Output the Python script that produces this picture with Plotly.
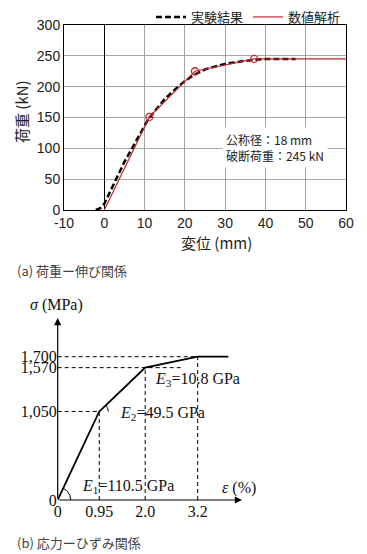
import math
import plotly.graph_objects as go

# ---------------- data: (a) load - elongation ----------------
exp_disp = [-2.1, -1.0, 0.0, 5.0, 11.0, 15.0, 18.0, 20.0, 22.0, 25.0, 30.0, 35.0, 40.0, 47.5]
exp_load = [0, 3, 10, 78, 148, 180, 198, 209, 218, 228, 237, 242, 245, 245]
num_disp = [0.0, 11.2, 22.5, 37.2, 60.0]
num_load = [0, 151, 225, 245, 245]
num_mark_disp = [11.2, 22.5, 37.2]
num_mark_load = [151, 225, 245]
x_ticks_a = [-10, 0, 10, 20, 30, 40, 50, 60]
x_labels_a = ["-10", "0", "10", "20", "30", "40", "50", "60"]
y_ticks_a = [0, 50, 100, 150, 200, 250, 300]

# ---------------- data: (b) stress - strain ----------------
strain = [0.0, 0.95, 2.0, 3.2, 3.9]
stress = [0, 1050, 1570, 1700, 1700]
guide_strain = [0.95, 2.0, 3.2]
guide_stress = [1050, 1570, 1700]
guide_h_end = [0.95, 2.83, 3.2]
strain_ticks = [0, 0.95, 2.0, 3.2]
strain_labels = ["0", "0.95", "2.0", "3.2"]
stress_ticks = [0, 1050, 1570, 1700]
stress_labels = ["0", "1,050", "1,570", "1,700"]

W, H = 367, 554
def px(x):
    return x / W
def py(y):
    return 1 - y / H

# bottom axis geometry (pixels)
bx0, bx1 = 57.7, 262.0
by0, by1 = 500.0, 300.0
sx = 43.75      # px per % strain
sy = 0.0843     # px per MPa
xr2 = (bx1 - bx0) / sx
yr2 = (by0 - by1) / sy

RED = "#c0282d"
SANS = "Liberation Sans, Arial, Noto Sans CJK JP"
JP = "Noto Sans CJK JP, Liberation Sans"
SERIF = "Liberation Serif, Times New Roman, serif"

fig = go.Figure()

# (a) traces
fig.add_trace(go.Scatter(x=exp_disp, y=exp_load, mode="lines", name="実験結果",
                         line=dict(color="black", width=2.5, dash="6px,3px"),
                         xaxis="x", yaxis="y"))
fig.add_trace(go.Scatter(x=num_disp, y=num_load, mode="lines", name="数値解析",
                         line=dict(color=RED, width=1.2), xaxis="x", yaxis="y"))
fig.add_trace(go.Scatter(x=num_mark_disp, y=num_mark_load, mode="markers", showlegend=False,
                         marker=dict(symbol="circle-open", size=7, color=RED, line=dict(width=1.3)),
                         xaxis="x", yaxis="y"))

# (b) guides
for e, s, he in zip(guide_strain, guide_stress, guide_h_end):
    fig.add_trace(go.Scatter(x=[e, e], y=[0, s], mode="lines", showlegend=False,
                             line=dict(color="black", width=1, dash="4px,3px"),
                             xaxis="x2", yaxis="y2"))
    fig.add_trace(go.Scatter(x=[0, he], y=[s, s], mode="lines", showlegend=False,
                             line=dict(color="black", width=1, dash="4px,3px"),
                             xaxis="x2", yaxis="y2"))

# (b) main curve
fig.add_trace(go.Scatter(x=strain, y=stress, mode="lines", showlegend=False,
                         line=dict(color="black", width=1.8),
                         xaxis="x2", yaxis="y2"))

# angle arcs
def arc(i, r):
    e0, s0 = strain[i], stress[i]
    e1, s1 = strain[i + 1], stress[i + 1]
    ang = math.atan2((s1 - s0) * sy, (e1 - e0) * sx)
    n = 20
    xs = [e0 + r * math.cos(ang * k / n) / sx for k in range(n + 1)]
    ys = [s0 + r * math.sin(ang * k / n) / sy for k in range(n + 1)]
    return xs, ys

for i, r in [(0, 13), (1, 9)]:
    xs, ys = arc(i, r)
    fig.add_trace(go.Scatter(x=xs, y=ys, mode="lines", showlegend=False,
                             line=dict(color="black", width=1),
                             xaxis="x2", yaxis="y2"))

fig.update_layout(
    width=W, height=H, margin=dict(l=0, r=0, t=0, b=0, autoexpand=False),
    paper_bgcolor="white", plot_bgcolor="white",
    showlegend=True, hovermode=False,
    legend=dict(orientation="h", x=px(346), xanchor="right", y=py(2), yanchor="top",
                font=dict(family=JP, size=13, color="#222"),
                bgcolor="rgba(0,0,0,0)", tracegroupgap=0, itemwidth=30),
    xaxis=dict(domain=[px(64), px(346)], range=[-10, 60], tickvals=x_ticks_a,
               ticktext=x_labels_a,
               showgrid=True, gridcolor="#a6a6a6", gridwidth=1,
               zeroline=True, zerolinecolor="black", zerolinewidth=1,
               showline=True, mirror=True, linecolor="black", linewidth=1,
               ticks="", tickfont=dict(family=SANS, size=14, color="#222"),
               anchor="y", fixedrange=True, automargin=False),
    yaxis=dict(domain=[py(210), py(25)], range=[0, 300], tickvals=y_ticks_a,
               showgrid=True, gridcolor="#a6a6a6", gridwidth=1,
               zeroline=False,
               showline=True, mirror=True, linecolor="black", linewidth=1,
               ticks="", tickfont=dict(family=SANS, size=14, color="#222"),
               anchor="x", fixedrange=True, automargin=False),
    xaxis2=dict(domain=[px(bx0), px(bx1)], range=[0, xr2], tickvals=strain_ticks,
                ticktext=strain_labels, showgrid=False, zeroline=False, showline=False,
                ticks="", tickfont=dict(family=SERIF, size=16, color="#111"),
                anchor="y2", fixedrange=True, automargin=False),
    yaxis2=dict(domain=[py(by0), py(by1)], range=[0, yr2], tickvals=stress_ticks,
                ticktext=stress_labels, showgrid=False, zeroline=False, showline=False,
                ticks="", tickfont=dict(family=SERIF, size=16, color="#111"),
                anchor="x2", fixedrange=True, automargin=False),
)

ann = []
# (a) titles / box / caption
ann.append(dict(text="変位 (mm)", xref="paper", yref="paper", x=px(216), y=py(242),
                showarrow=False, font=dict(family=JP, size=15, color="#222"),
                xanchor="center", yanchor="middle"))
ann.append(dict(text="荷重 (kN)", xref="paper", yref="paper", x=px(22), y=py(112),
                showarrow=False, textangle=-90, font=dict(family=JP, size=15, color="#222"),
                xanchor="center", yanchor="middle"))
ann.append(dict(text="公称径：18 mm<br>破断荷重：245 kN", xref="x", yref="y", x=29.2, y=101,
                showarrow=False, align="left", xanchor="left", yanchor="middle",
                bgcolor="white", borderpad=3,
                font=dict(family=JP, size=12, color="#222")))
ann.append(dict(text="(a) 荷重ー伸び関係", xref="paper", yref="paper", x=px(15), y=py(270),
                showarrow=False, xanchor="left", yanchor="middle",
                font=dict(family=JP, size=13, color="#444")))
# (b) axis arrows
ann.append(dict(x=0, y=(by0 - 318) / sy, ax=0, ay=0, xref="x2", yref="y2",
                axref="x2", ayref="y2", showarrow=True, arrowhead=2, arrowsize=1.2,
                arrowwidth=1.2, arrowcolor="black", text=""))
ann.append(dict(x=(242 - bx0) / sx, y=0, ax=0, ay=0, xref="x2", yref="y2",
                axref="x2", ayref="y2", showarrow=True, arrowhead=2, arrowsize=1.2,
                arrowwidth=1.2, arrowcolor="black", text=""))
# (b) labels
ann.append(dict(text="<i>σ</i> (MPa)", xref="paper", yref="paper", x=px(28), y=py(305),
                showarrow=False, xanchor="left", yanchor="middle",
                font=dict(family=SERIF, size=16, color="#111")))
ann.append(dict(text="<i>ε</i> (%)", xref="paper", yref="paper", x=px(220), y=py(488),
                showarrow=False, xanchor="left", yanchor="middle",
                font=dict(family=SERIF, size=16, color="#111")))
ann.append(dict(text="<i>E</i><sub>1</sub>=110.5 GPa", xref="paper", yref="paper", x=px(80), y=py(486),
                showarrow=False, xanchor="left", yanchor="middle",
                font=dict(family=SERIF, size=16, color="#111")))
ann.append(dict(text="<i>E</i><sub>2</sub>=49.5 GPa", xref="paper", yref="paper", x=px(118), y=py(413),
                showarrow=False, xanchor="left", yanchor="middle",
                font=dict(family=SERIF, size=16, color="#111")))
ann.append(dict(text="<i>E</i><sub>3</sub>=10.8 GPa", xref="paper", yref="paper", x=px(153), y=py(379),
                showarrow=False, xanchor="left", yanchor="middle",
                font=dict(family=SERIF, size=16, color="#111")))
ann.append(dict(text="(b) 応力ーひずみ関係", xref="paper", yref="paper", x=px(15), y=py(542),
                showarrow=False, xanchor="left", yanchor="middle",
                font=dict(family=JP, size=13, color="#444")))
fig.update_layout(annotations=ann)

fig.write_html("out.html", config={"displayModeBar": False, "staticPlot": True},
               post_script="document.body.style.margin='0';document.body.style.overflow='hidden';")
